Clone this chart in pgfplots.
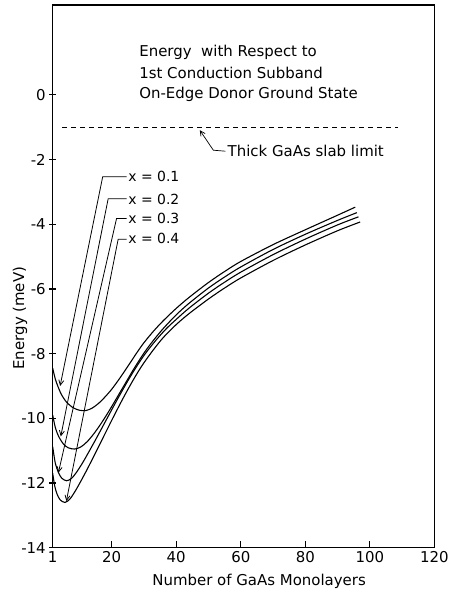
\documentclass[border=0pt]{standalone}
\usepackage{fontspec}
\setmainfont{DejaVu Sans}
\usepackage{pgfplots}
\pgfplotsset{compat=1.18}
\usetikzlibrary{arrows.meta}
\begin{document}
\begin{tikzpicture}
\begin{axis}[
  scale only axis, width=381.6bp, height=542.7bp,
  xmin=1.7, xmax=120, ymin=-14, ymax=2.78,
  xtick={1.7,20,40,60,80,100,120}, xticklabels={1,20,40,60,80,100,120},
  ytick={-14,-12,-10,-8,-6,-4,-2,0}, yticklabels={-14,-12,-10,-8,-6,-4,-2,0},
  xtick pos=bottom, ytick pos=left,
  xtick align=inside, ytick align=center,
  major tick length=7bp,
  axis line style={line width=1.2pt},
  every tick/.style={black, line width=1.1pt},
  tick label style={font=\fontsize{15}{18}\selectfont},
  label style={font=\fontsize{15}{18}\selectfont},
  xlabel={Number of GaAs Monolayers},
  ylabel={Energy (meV)},
  xlabel style={at={(axis description cs:0.541,-0.0627)}, anchor=center},
  ylabel style={at={(axis description cs:-0.0857,0.423)}, anchor=center},
  clip=false,
]
\coordinate (bbsw) at (rel axis cs:0,0);
\coordinate (bbne) at (rel axis cs:1,1);
% x = 0.1
\addplot[black, line width=1.1pt, smooth, tension=0.5] coordinates {
(1.7,-8.45) (2.5,-8.78) (3.5,-9.06) (4.5,-9.28) (6,-9.50) (8,-9.67) (10,-9.75) (12,-9.76) (14,-9.68) (16,-9.53) (18,-9.33) (20,-9.10) (22,-8.83) (24,-8.54) (26,-8.24) (28,-7.94) (30,-7.66) (33,-7.30) (36,-6.98) (40,-6.60) (44,-6.26) (50,-5.80) (55,-5.46) (60,-5.15) (70,-4.63) (80,-4.17) (90,-3.72) (95.5,-3.47)
};
% x = 0.2
\addplot[black, line width=1.1pt, smooth, tension=0.5] coordinates {
(1.7,-9.90) (2.5,-10.28) (3.5,-10.55) (5,-10.79) (6.5,-10.91) (8.5,-10.95) (10.5,-10.88) (12.5,-10.71) (14.5,-10.47) (16.5,-10.19) (18.5,-9.88) (20.5,-9.55) (22.5,-9.21) (24.5,-8.87) (26.5,-8.53) (28.5,-8.21) (30.5,-7.91) (33,-7.58) (36,-7.22) (40,-6.80) (44,-6.44) (50,-5.97) (55,-5.63) (60,-5.32) (70,-4.78) (80,-4.31) (90,-3.88) (96,-3.64)
};
% x = 0.3
\addplot[black, line width=1.1pt, smooth, tension=0.5] coordinates {
(1.7,-10.88) (2.5,-11.38) (3.5,-11.68) (4.5,-11.85) (6,-11.93) (7.5,-11.86) (9,-11.68) (11,-11.37) (13,-11.02) (15,-10.66) (17,-10.29) (19,-9.92) (21,-9.55) (23,-9.19) (25,-8.84) (27,-8.51) (29,-8.20) (31,-7.92) (34,-7.55) (37,-7.22) (40,-6.94) (44,-6.59) (50,-6.13) (55,-5.79) (60,-5.48) (70,-4.94) (80,-4.46) (90,-4.02) (96.5,-3.77)
};
% x = 0.4
\addplot[black, line width=1.1pt, smooth, tension=0.5] coordinates {
(1.7,-11.70) (2.3,-12.08) (3,-12.33) (4,-12.52) (5.5,-12.60) (7,-12.50) (8.5,-12.28) (10,-12.02) (12,-11.65) (14,-11.26) (16,-10.86) (18,-10.46) (20,-10.06) (22,-9.67) (24,-9.29) (26,-8.93) (28,-8.59) (30,-8.28) (33,-7.87) (36,-7.50) (40,-7.10) (44,-6.76) (50,-6.31) (55,-5.97) (60,-5.66) (70,-5.12) (80,-4.64) (90,-4.20) (97,-3.93)
};
% thick slab limit
\addplot[black, line width=0.8pt, dash pattern=on 5bp off 4bp] coordinates {(4.6,-1.0) (108.6,-1.0)};

\draw[line width=0.7pt, -{Straight Barb[length=5bp,width=5bp]}] (axis cs:55.2,-1.74) -- (axis cs:51.5,-1.71) -- (axis cs:47.3,-1.09);
\node[anchor=base west, font=\fontsize{15}{18}\selectfont, inner sep=0pt] at (axis cs:55.9,-1.914) {Thick\ GaAs\ slab\ limit};

\node[anchor=base west, font=\fontsize{15}{18}\selectfont, inner sep=0pt] at (axis cs:28.5,1.20) {Energy\ \ with\ Respect\ to};
\node[anchor=base west, font=\fontsize{15}{18}\selectfont, inner sep=0pt] at (axis cs:28.5,0.51) {1st Conduction Subband};
\node[anchor=base west, font=\fontsize{15}{18}\selectfont, inner sep=0pt] at (axis cs:28.5,-0.108) {On-Edge Donor Ground State};

\draw[line width=0.8pt, -{Straight Barb[length=5bp,width=5bp]}] (axis cs:24.6,-2.53) -- (axis cs:17.2,-2.53) -- (axis cs:4.0,-9.0);
\draw[line width=0.8pt, -{Straight Barb[length=5bp,width=5bp]}] (axis cs:24.6,-3.21) -- (axis cs:18.9,-3.21) -- (axis cs:4.2,-10.56);
\draw[line width=0.8pt, -{Straight Barb[length=5bp,width=5bp]}] (axis cs:24.6,-3.82) -- (axis cs:21.5,-3.82) -- (axis cs:3.47,-11.68);
\draw[line width=0.8pt, -{Straight Barb[length=5bp,width=5bp]}] (axis cs:24.6,-4.46) -- (axis cs:22.0,-4.46) -- (axis cs:5.94,-12.56);
\node[anchor=base west, font=\fontsize{14}{17}\selectfont, inner sep=0pt] at (axis cs:25.1,-2.686) {x = 0.1};
\node[anchor=base west, font=\fontsize{14}{17}\selectfont, inner sep=0pt] at (axis cs:25.1,-3.376) {x = 0.2};
\node[anchor=base west, font=\fontsize{14}{17}\selectfont, inner sep=0pt] at (axis cs:25.1,-3.97) {x = 0.3};
\node[anchor=base west, font=\fontsize{14}{17}\selectfont, inner sep=0pt] at (axis cs:25.1,-4.59) {x = 0.4};
\end{axis}
\pgfresetboundingbox
\useasboundingbox ([shift={(-52.7bp,-46.3bp)}]bbsw) rectangle ([shift={(16.7bp,5bp)}]bbne);
\end{tikzpicture}
\end{document}
